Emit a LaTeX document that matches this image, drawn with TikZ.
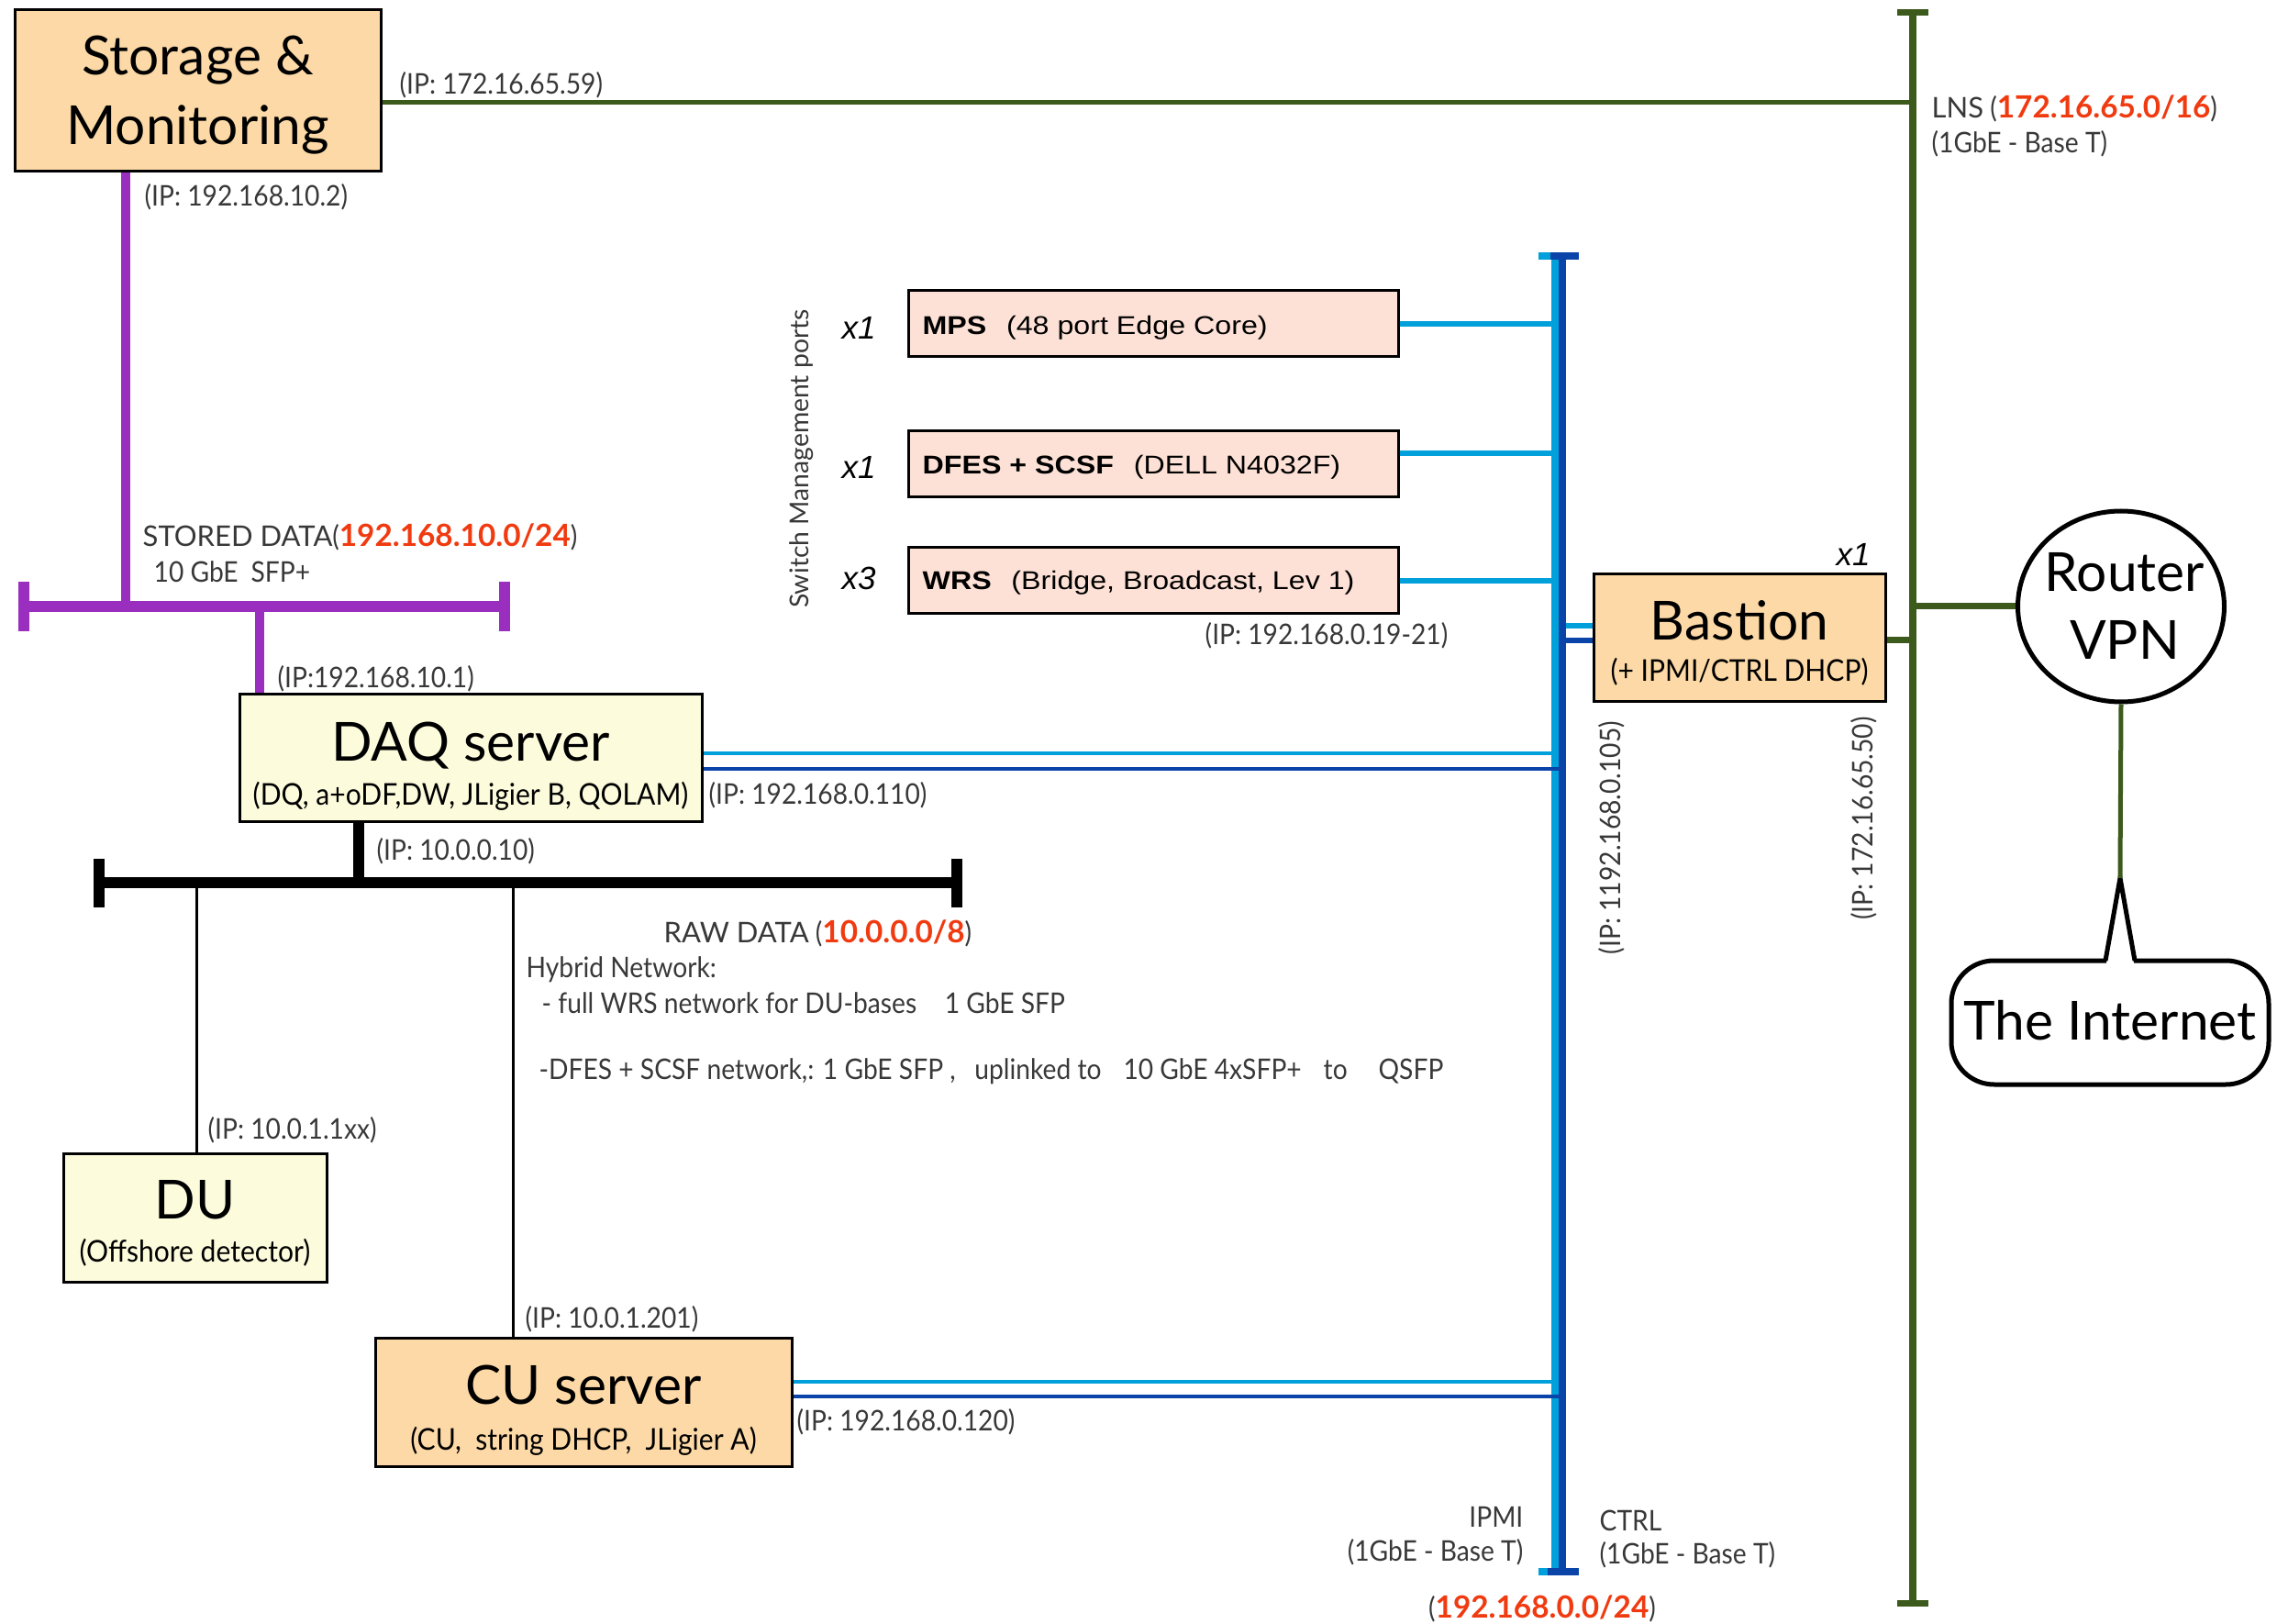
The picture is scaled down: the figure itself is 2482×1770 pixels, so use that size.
\documentclass[tikz,border=0pt]{standalone}
\usepackage{fontspec}
\setmainfont{Lato}
\newfontfamily\narrowsans{Lato}[FakeStretch=0.91]
\newfontfamily\subsans{Lato}[FakeStretch=0.92]
\newfontfamily\switchsans{Liberation Sans}[FakeStretch=1.15]
\newfontfamily\tagsans{Liberation Sans}
\usetikzlibrary{shapes.geometric,calc}

\definecolor{peach}{HTML}{FCD9A6}
\definecolor{cream}{HTML}{FCFBDC}
\definecolor{blush}{HTML}{FDE1D6}
\definecolor{lnsgreen}{HTML}{3D5A1D}
\definecolor{storpurple}{HTML}{9A2EBF}
\definecolor{ctrlblue}{HTML}{00A0DA}
\definecolor{ipmiblue}{HTML}{0A44A8}
\definecolor{netred}{HTML}{F03A10}
\definecolor{labelgray}{HTML}{383838}

% network address in bold red, set a little larger than the label text
\newcommand\netip[1]{\textcolor{netred}{\normalfont\bfseries\fontsize{10}{11}\selectfont #1}}
% capitals in the labels are set unstretched
\newcommand\capword[1]{{\normalfont #1}}

\begin{document}
\begin{tikzpicture}[x=0.3pt,y=-0.3pt,
  box/.style={draw=black, line width=0.9pt, inner sep=0pt},
  title/.style={font=\fontsize{17.6}{20}\selectfont, anchor=base, inner sep=0pt},
  subtitle/.style={font=\subsans\fontsize{9.8}{11}\selectfont, anchor=base, inner sep=0pt},
  lbl/.style={font=\narrowsans\fontsize{9.3}{11}\selectfont, text=labelgray, inner sep=0pt},
  swbox/.style={box, fill=blush, minimum width=160.2pt, minimum height=21.6pt},
  swtext/.style={font=\switchsans\fontsize{8.4}{10}\selectfont, anchor=base west, inner sep=0pt},
  count/.style={font=\tagsans\itshape\fontsize{10.5}{12}\selectfont, anchor=base, inner sep=0pt},
  lnsbar/.style={draw=lnsgreen, line width=2.4pt},
  lnslink/.style={draw=lnsgreen, line width=1.5pt},
  lnsstub/.style={draw=lnsgreen, line width=2.1pt},
  sdbar/.style={draw=storpurple, line width=3.6pt},
  sdstub/.style={draw=storpurple, line width=3pt},
  rawbar/.style={draw=black, line width=3.6pt},
  rawlink/.style={draw=black, line width=0.9pt},
  ctrlbus/.style={draw=ctrlblue, line width=2.7pt},
  ipmibus/.style={draw=ipmiblue, line width=2.4pt},
  ctrllink/.style={draw=ctrlblue, line width=1.4pt},
  ipmilink/.style={draw=ipmiblue, line width=1.2pt},
  swlink/.style={draw=ctrlblue, line width=1.8pt},
  outline/.style={draw=black, line width=1.5pt}
]
\useasboundingbox (0,0) rectangle (2482,1770);

% ---------- servers ----------
\node[box, fill=peach, minimum width=119.7pt, minimum height=52.8pt] (storage) at (215.5,99) {};
\node[title] (storageA) at (215.5,82) {Storage \&};
\node[title] (storageB) at (215.5,158) {Monitoring};

\node[box, fill=cream, minimum width=151.2pt, minimum height=41.7pt] (daq) at (513,826.5) {};
\node[title] (daqA) at (513,829) {DAQ server};
\node[subtitle] (daqB) at (513,878) {(DQ, a+oDF,DW, JLigier B, QOLAM)};

\node[box, fill=cream, minimum width=86.1pt, minimum height=42pt] (du) at (212.5,1327) {};
\node[title] (duA) at (212.5,1328) {DU};
\node[subtitle] (duB) at (212.5,1375) {(Offshore detector)};

\node[box, fill=peach, minimum width=136.2pt, minimum height=42pt] (cu) at (636,1528) {};
\node[title] (cuA) at (636,1530) {CU server};
\node[subtitle] (cuB) at (636,1580) {(CU,~ string DHCP,~ JLigier A)};

\node[box, fill=peach, minimum width=95.4pt, minimum height=41.7pt] (bastion) at (1896,695.5) {};
\node[title] (bastionA) at (1896,698) {Bastion};
\node[subtitle] (bastionB) at (1896,743) {(+ IPMI/CTRL DHCP)};
\node[count] (bastionN) at (2020,617) {x1};

% ---------- switch management ports ----------
\node[swbox] (mps) at (1257,353) {};
\node[swtext] (mpsT) at (1005,365) {\textbf{MPS}\hspace{6.5pt}(48 port Edge Core)};
\node[swbox] (dfes) at (1257,505.5) {};
\node[swtext] (dfesT) at (1005,517) {\textbf{DFES + SCSF}\hspace{6.5pt}(DELL N4032F)};
\node[swbox] (wrs) at (1257,633) {};
\node[swtext] (wrsT) at (1005,643) {\textbf{WRS}\hspace{6.5pt}(Bridge, Broadcast, Lev 1)};
\node[count] (mpsN) at (936,370) {x1};
\node[count] (dfesN) at (936,522) {x1};
\node[count] (wrsN) at (936,643) {x3};
\node[font=\fontsize{8.5}{10}\selectfont, text=labelgray, rotate=90, inner sep=0pt] (swports) at (874,500) {Switch Management ports};
\node[lbl, anchor=east] (wrsIP) at (1579,693) {(IP: 192.168.0.19-21)};

% ---------- LNS network ----------
\coordinate (lnstop) at (2085,14);
\coordinate (lnsbot) at (2085,1747);
\draw[lnsbar] (lnstop) -- (lnsbot);
\draw[lnsstub] (2068,14) -- (2102,14);
\draw[lnsstub] (2068,1747) -- (2102,1747);
\path ($(storage.east)+(0,13)$) coordinate (stLns);
\draw[lnslink] (stLns) -- (stLns -| lnstop);
\draw[lnsstub] ($(bastion.east)+(0,2.5)$) coordinate (baLns) -- (baLns -| lnstop);
\node[lbl, anchor=west] (stLnsIP) at (435,93) {(IP: 172.16.65.59)};
\node[lbl, anchor=west] (lnsA) at (2105,118) {\capword{LNS} (\netip{172.16.65.0/16})};
\node[lbl, anchor=west] (lnsB) at (2105,157) {(1GbE - Base T)};
\node[lbl, rotate=90] (baLnsIP) at (2032,892) {(IP: 172.16.65.50)};

% ---------- router and internet ----------
\node[outline, ellipse, minimum width=67.5pt, minimum height=62.4pt, inner sep=0pt] (router) at (2312,661) {};
\node[title] (routerA) at (2316,645) {Router};
\node[title] (routerB) at (2316,719) {VPN};
\draw[lnsstub] (router.west) -- (router.west -| lnstop);

\node[outline, rounded corners=14pt, minimum width=103.8pt, minimum height=40.5pt, inner sep=0pt] (internet) at (2300,1114.5) {};
\node[title] (internetT) at (2300,1133) {The Internet};
\coordinate (tip) at (2311,957);
\fill[white] (2296,1050) -- (tip) -- (2326,1050) -- cycle;
\draw[outline, line join=miter] (2295,1047) -- (tip) -- (2327,1047);
\draw[lnslink] (router.south) -- (tip);

% ---------- stored data network ----------
\coordinate (sdL) at (26,661);
\coordinate (sdR) at (550,661);
\draw[sdstub] ($(storage.south west)+(122,0)$) coordinate (stTap) -- (stTap |- sdL);
\draw[sdstub] ($(daq.north west)+(23,0)$) coordinate (dqTap) -- (dqTap |- sdL);
\draw[sdbar] (sdL) -- (sdR);
\draw[sdbar] ($(sdL)+(0,-27)$) -- ($(sdL)+(0,27)$);
\draw[sdbar] ($(sdR)+(0,-27)$) -- ($(sdR)+(0,27)$);
\node[lbl, anchor=west] (stSdIP) at (157,215) {(IP: 192.168.10.2)};
\node[lbl, anchor=west] (sdA) at (155,585) {\capword{STORED DATA}(\netip{192.168.10.0/24})};
\node[lbl, anchor=west] (sdB) at (167,623) {10 GbE\hspace{2pt} SFP+};
\node[lbl, anchor=west] (dqSdIP) at (302,740) {(IP:192.168.10.1)};

% ---------- raw data network ----------
\coordinate (rawL) at (108,962);
\coordinate (rawR) at (1043,962);
\draw[rawbar] ($(daq.south west)+(131,0)$) coordinate (dqRaw) -- (dqRaw |- rawL);
\draw[rawlink] ($(du.north west)+(147,0)$) coordinate (duRaw) -- (duRaw |- rawL);
\draw[rawlink] ($(cu.north west)+(152,0)$) coordinate (cuRaw) -- (cuRaw |- rawL);
\draw[rawbar] (rawL) -- (rawR);
\draw[rawbar] ($(rawL)+(0,-26)$) -- ($(rawL)+(0,27)$);
\draw[rawbar] ($(rawR)+(0,-26)$) -- ($(rawR)+(0,27)$);
\node[lbl, anchor=west] (dqRawIP) at (410,928) {(IP: 10.0.0.10)};
\node[lbl, anchor=west] (rawA) at (723,1017) {\capword{RAW DATA} (\netip{10.0.0.0/8})};
\node[lbl, anchor=west] (rawB) at (573,1057) {Hybrid Network:};
\node[lbl, anchor=west] (rawC) at (590,1093) {- full WRS network for DU-bases\hspace{7pt} 1 GbE SFP};
\node[lbl, anchor=west] (rawD) at (587,1168) {-DFES + SCSF network,: 1 GbE SFP ,\hspace{4pt} uplinked to\hspace{5pt} 10 GbE 4xSFP+\hspace{5pt} to\hspace{8pt} QSFP};
\node[lbl, anchor=west] (duRawIP) at (226,1232) {(IP: 10.0.1.1xx)};
\node[lbl, anchor=west] (cuRawIP) at (572,1438) {(IP: 10.0.1.201)};

% ---------- IPMI / CTRL network ----------
\coordinate (ctrltop) at (1695,279);
\coordinate (ctrlbot) at (1695,1713);
\coordinate (ipmitop) at (1703,279);
\coordinate (ipmibot) at (1703,1713);

\draw[swlink] (mps.east) -- (mps.east -| ctrltop);
\draw[swlink] ($(dfes.east)+(0,-11)$) coordinate (dfesTap) -- (dfesTap -| ctrltop);
\draw[swlink] (wrs.east) -- (wrs.east -| ctrltop);
\draw[ctrllink] ($(daq.east)+(0,-5.5)$) coordinate (dqCtrl) -- (dqCtrl -| ctrltop);
\draw[ctrllink] ($(cu.east)+(0,-22)$) coordinate (cuCtrl) -- (cuCtrl -| ctrltop);

\draw[ctrlbus] (ctrltop) -- (ctrlbot);
\draw[ipmibus] (ipmitop) -- (ipmibot);
\draw[draw=ctrlblue, line width=2.4pt] (1677,279) -- (1691,279);
\draw[draw=ipmiblue, line width=2.4pt] (1690,279) -- (1721,279);
\draw[draw=ctrlblue, line width=2.4pt] (1677,1713) -- (1688,1713);
\draw[draw=ipmiblue, line width=2.4pt] (1687,1713) -- (1721,1713);

\draw[ipmilink] ($(daq.east)+(0,11.5)$) coordinate (dqIpmi) -- (dqIpmi -| ipmitop);
\draw[ipmilink] ($(cu.east)+(0,-6)$) coordinate (cuIpmi) -- (cuIpmi -| ipmitop);
\draw[draw=ctrlblue, line width=2pt] ($(bastion.west)+(0,-13.5)$) coordinate (baCtrl) -- ++(-29,0);
\draw[draw=ipmiblue, line width=2pt] ($(bastion.west)+(0,2.5)$) coordinate (baIpmi) -- (baIpmi -| ipmitop);

\node[lbl, anchor=west] (dqCtrlIP) at (772,867) {(IP: 192.168.0.110)};
\node[lbl, anchor=west] (cuCtrlIP) at (868,1550) {(IP: 192.168.0.120)};
\node[lbl, rotate=90] (baCtrlIP) at (1757,913) {(IP: 1192.168.0.105)};
\node[lbl, anchor=east] (ipmiA) at (1661,1653) {IPMI};
\node[lbl, anchor=east] (ipmiB) at (1661,1692) {(1GbE - Base T)};
\node[lbl, anchor=west] (ctrlA) at (1743,1657) {CTRL};
\node[lbl, anchor=west] (ctrlB) at (1743,1695) {(1GbE - Base T)};
\node[lbl] (ctrlNet) at (1681,1753) {(\netip{192.168.0.0/24})};
\end{tikzpicture}
\end{document}
